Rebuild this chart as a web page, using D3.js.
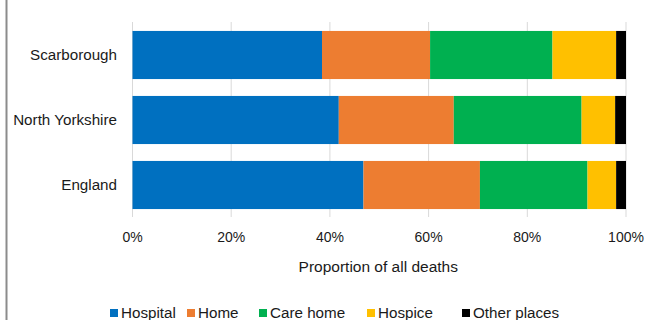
<!DOCTYPE html>
<html><head><meta charset="utf-8">
<script src="https://cdn.jsdelivr.net/npm/d3@7"></script>
<style>body{margin:0;background:#fff}svg{display:block}text{font-family:"Liberation Sans",Arial,sans-serif;fill:#1a1a1a}</style>
</head><body><svg id="c" width="646" height="320"></svg>
<script>
const categories = ["Scarborough", "North Yorkshire", "England"];
const seriesNames = ["Hospital", "Home", "Care home", "Hospice", "Other places"];
const hospital = [38.4, 41.8, 46.8];
const home = [21.9, 23.3, 23.6];
const careHome = [24.8, 25.9, 21.8];
const hospice = [12.9, 6.8, 5.8];
const otherPlaces = [2.0, 2.2, 2.0];
const tickLabels = ["0%", "20%", "40%", "60%", "80%", "100%"];
const colors = ["#0070C0", "#ED7D31", "#00B050", "#FFC000", "#000000"];

const seriesValues = [hospital, home, careHome, hospice, otherPlaces];
const rows = categories.map((c, i) => {
  const r = {category: c};
  seriesNames.forEach((s, j) => r[s] = seriesValues[j][i]);
  return r;
});
const stack = d3.stack().keys(seriesNames)(rows);

const svg = d3.select("#c");
svg.append("line").attr("x1", 6.5).attr("x2", 6.5).attr("y1", 0).attr("y2", 320)
  .attr("stroke", "#8c8c8c").attr("stroke-width", 2);

const x = d3.scaleLinear().domain([0, 100]).range([132.5, 626]);
const y = d3.scaleBand().domain(categories).range([22.5, 217.5]).paddingInner(0.26).paddingOuter(0.13);

// gridlines
svg.append("g").selectAll("line").data(d3.range(0, 101, 20)).join("line")
  .attr("x1", d => x(d)).attr("x2", d => x(d)).attr("y1", 22).attr("y2", 217)
  .attr("stroke", "#d9d9d9").attr("stroke-width", 1);

svg.append("g").selectAll("g").data(stack).join("g")
  .attr("fill", (d, i) => colors[i])
  .selectAll("rect").data(d => d).join("rect")
  .attr("x", d => x(d[0])).attr("width", d => x(d[1]) - x(d[0]))
  .attr("y", d => y(d.data.category)).attr("height", y.bandwidth());

// y labels
svg.append("g").selectAll("text").data(categories).join("text")
  .attr("x", 117).attr("y", d => y(d) + y.bandwidth() / 2).attr("dy", "0.35em")
  .attr("text-anchor", "end").attr("font-size", 15.2).text(d => d);

// x tick labels
svg.append("g").selectAll("text").data(tickLabels).join("text")
  .attr("x", (d, i) => x(i * 20)).attr("y", 242).attr("text-anchor", "middle")
  .attr("font-size", 14).text(d => d);

svg.append("text").attr("x", x(50) - 1).attr("y", 272).attr("text-anchor", "middle")
  .attr("font-size", 15.5).text("Proportion of all deaths");

// legend
const legendX = [110, 187, 259, 367, 462];
const lg = svg.append("g").selectAll("g").data(seriesNames).join("g")
  .attr("transform", (d, i) => `translate(${legendX[i]},313)`);
lg.append("rect").attr("x", 0).attr("y", -4).attr("width", 8).attr("height", 8)
  .attr("fill", (d, i) => colors[i]);
lg.append("text").attr("x", 11).attr("y", 0).attr("dy", "0.35em").attr("font-size", 15.2).text(d => d);
</script></body></html>
